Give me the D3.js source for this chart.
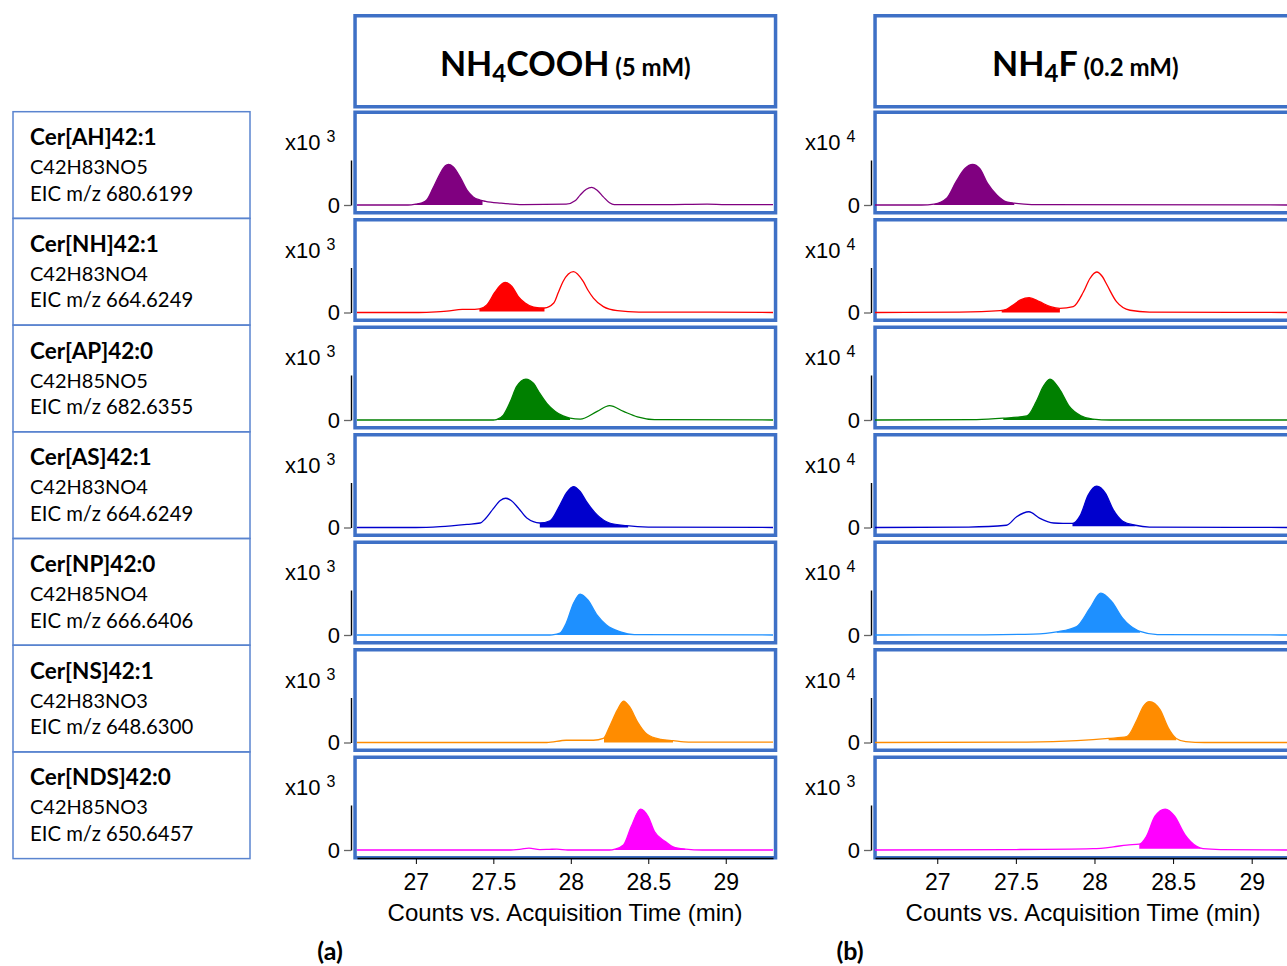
<!DOCTYPE html>
<html>
<head>
<meta charset="utf-8">
<script src="https://cdn.jsdelivr.net/npm/d3@7"></script>
<style>
	body { margin: 0; background: #fff; }
	svg { display: block; }
	.axis text { font-family: "Liberation Sans", Arial, sans-serif; fill: #000; }
	.lbl { font-family: Lato, "Open Sans", sans-serif; fill: #000; }
</style>
</head>
<body>
<div id="chartDiv"></div>
<script>
;(function() {

	// ---- data ----
	var compounds = ["Cer[AH]42:1", "Cer[NH]42:1", "Cer[AP]42:0", "Cer[AS]42:1", "Cer[NP]42:0", "Cer[NS]42:1", "Cer[NDS]42:0"];
	var formulas = ["C42H83NO5", "C42H83NO4", "C42H85NO5", "C42H83NO4", "C42H85NO4", "C42H83NO3", "C42H85NO3"];
	var eicMz = ["680.6199", "664.6249", "682.6355", "664.6249", "666.6406", "648.6300", "650.6457"];

	var timeTicks = [27, 27.5, 28, 28.5, 29];
	var xDomainA = [26.62, 29.305];
	var xDomainB = [26.604, 29.25];
	var exponentsA = [3, 3, 3, 3, 3, 3, 3];
	var exponentsB = [4, 4, 4, 4, 4, 4, 3];

	// [time (min), relative counts]
	var tracesA = [
		[[26.62,0],[26.95,0],[27.0,0.02],[27.04,0.05],[27.07,0.11],[27.11,0.37],[27.157,0.70],[27.19,0.87],[27.21,0.90],[27.24,0.85],[27.29,0.59],[27.33,0.33],[27.37,0.18],[27.415,0.11],[27.45,0.08],[27.55,0.04],[27.69,0.01],[27.97,0.02],[28.03,0.10],[28.06,0.22],[28.1,0.35],[28.135,0.39],[28.17,0.33],[28.21,0.18],[28.25,0.05],[28.28,0.01],[28.6,0.01],[28.88,0.02],[29.0,0.01],[29.305,0.01]],
		[[26.62,0],[27.0,0],[27.1,0.01],[27.2,0.03],[27.3,0.07],[27.38,0.07],[27.41,0.08],[27.458,0.17],[27.51,0.45],[27.544,0.60],[27.576,0.67],[27.62,0.58],[27.66,0.36],[27.705,0.21],[27.76,0.12],[27.83,0.10],[27.89,0.21],[27.92,0.45],[27.95,0.69],[28.017,0.91],[28.08,0.69],[28.11,0.50],[28.146,0.32],[28.21,0.13],[28.30,0.04],[28.44,0.01],[28.8,0.01],[29.305,0]],
		[[26.62,0],[27.5,0],[27.52,0.01],[27.565,0.11],[27.61,0.41],[27.65,0.74],[27.71,0.91],[27.76,0.81],[27.80,0.59],[27.845,0.37],[27.90,0.19],[27.95,0.09],[27.995,0.04],[28.06,0.02],[28.17,0.19],[28.25,0.32],[28.34,0.19],[28.43,0.07],[28.54,0.01],[29.305,0]],
		[[26.62,0],[27.0,0],[27.157,0.02],[27.33,0.07],[27.415,0.10],[27.45,0.20],[27.5,0.42],[27.545,0.60],[27.58,0.65],[27.615,0.60],[27.66,0.44],[27.716,0.21],[27.80,0.10],[27.866,0.15],[27.93,0.50],[27.974,0.78],[28.017,0.91],[28.06,0.80],[28.10,0.58],[28.17,0.28],[28.25,0.10],[28.36,0.04],[28.5,0.01],[29.305,0]],
		[[26.62,0],[27.85,0],[27.88,0.005],[27.93,0.04],[27.97,0.26],[28.017,0.70],[28.06,0.91],[28.11,0.78],[28.17,0.44],[28.23,0.22],[28.32,0.07],[28.41,0.01],[29.305,0]],
		[[26.62,0],[27.845,0],[27.97,0.05],[28.146,0.05],[28.21,0.09],[28.25,0.35],[28.30,0.72],[28.34,0.92],[28.38,0.79],[28.43,0.46],[28.49,0.19],[28.58,0.07],[28.66,0.04],[28.76,0.01],[29.305,0.01]],
		[[26.62,0],[27.6,0],[27.68,0.02],[27.73,0.04],[27.8,0.01],[27.86,0.015],[27.91,0.02],[27.98,0],[28.25,0],[28.285,0.02],[28.34,0.11],[28.39,0.52],[28.45,0.91],[28.50,0.74],[28.54,0.41],[28.61,0.19],[28.66,0.07],[28.74,0.02],[28.85,0],[29.305,0]]
	];
	var tracesB = [
		[[26.604,0],[26.9,0],[26.98,0.02],[27.06,0.15],[27.12,0.52],[27.176,0.81],[27.225,0.90],[27.27,0.81],[27.32,0.48],[27.38,0.22],[27.44,0.07],[27.49,0.04],[27.6,0.01],[29.25,0]],
		[[26.604,0],[27.14,0.01],[27.40,0.04],[27.44,0.07],[27.48,0.16],[27.53,0.28],[27.585,0.33],[27.65,0.24],[27.72,0.13],[27.78,0.09],[27.865,0.13],[27.93,0.46],[27.97,0.75],[28.014,0.90],[28.05,0.80],[28.08,0.61],[28.14,0.24],[28.226,0.05],[28.35,0.01],[29.25,0]],
		[[26.604,0],[27.25,0.01],[27.42,0.04],[27.57,0.09],[27.63,0.41],[27.674,0.74],[27.717,0.91],[27.78,0.67],[27.84,0.30],[27.91,0.10],[27.99,0.02],[28.1,0],[29.25,0]],
		[[26.604,0],[27.2,0.01],[27.44,0.05],[27.505,0.24],[27.583,0.35],[27.65,0.21],[27.74,0.10],[27.80,0.09],[27.86,0.09],[27.91,0.27],[27.96,0.72],[28.014,0.92],[28.07,0.76],[28.12,0.39],[28.18,0.14],[28.26,0.05],[28.35,0.01],[29.25,0]],
		[[26.604,0],[27.3,0.005],[27.61,0.02],[27.76,0.07],[27.887,0.19],[27.97,0.59],[28.04,0.93],[28.11,0.74],[28.18,0.37],[28.27,0.11],[28.29,0.08],[28.4,0.01],[29.25,0]],
		[[26.604,0],[27.57,0.01],[27.887,0.04],[28.09,0.09],[28.205,0.13],[28.27,0.50],[28.31,0.80],[28.35,0.91],[28.417,0.73],[28.47,0.32],[28.52,0.09],[28.58,0.02],[28.7,0],[29.25,0]],
		[[26.604,0],[27.5,0.01],[27.99,0.03],[28.12,0.07],[28.205,0.11],[28.285,0.13],[28.33,0.30],[28.385,0.75],[28.45,0.91],[28.51,0.75],[28.575,0.34],[28.65,0.08],[28.69,0.03],[28.8,0.01],[29.25,0]]
	];

	// integrated peak windows [start, end] (min) and the level the shading sits on
	var peakWindowsA = [[26.985,27.43],[27.41,27.83],[27.515,27.995],[27.80,28.37],[27.88,28.41],[28.215,28.66],[28.285,28.74]];
	var peakWindowsB = [[26.98,27.49],[27.41,27.78],[27.42,28.0],[27.86,28.26],[27.76,28.29],[28.09,28.52],[28.285,28.69]];
	var peakBaseA = [0, 0.02, 0, 0, 0, 0, 0];
	var peakBaseB = [0, 0, 0, 0.03, 0.05, 0.05, 0.03];

	// ---- styles / layout ----
	var traceColors = ["#800080", "#FF0000", "#008000", "#0000CD", "#1E90FF", "#FF8C00", "#FF00FF"];
	var boxBlue = "#3E70C6";
	var width = 1287, height = 966;
	var rowTop0 = 110.5, rowPitch = 107.5, rowBoxH = 104;
	var baseOffset = 94.5, barH = 45;
	var boxStroke = 3.5;

	var columns = [
		{ boxX: 353.3, boxW: 424, axisX: 351, range: [357, 773], domain: xDomainA, traces: tracesA,
		  windows: peakWindowsA, bases: peakBaseA, exps: exponentsA,
		  title: "NH", sub: "4", rest: "COOH", conc: "(5 mM)", tag: "(a)", tagX: 330 },
		{ boxX: 873.3, boxW: 424, axisX: 871, range: [875, 1291], domain: xDomainB, traces: tracesB,
		  windows: peakWindowsB, bases: peakBaseB, exps: exponentsB,
		  title: "NH", sub: "4", rest: "F", conc: "(0.2 mM)", tag: "(b)", tagX: 850 }
	];

	var chart = d3.select("#chartDiv").append("svg")
		.attr("width", width)
		.attr("height", height);

	var defs = chart.append("defs");

	// left label boxes
	var labelTop0 = 111.7, labelPitch = 106.7;
	compounds.forEach(function(name, i) {
		var top = labelTop0 + i * labelPitch;
		var g = chart.append("g").attr("transform", "translate(0," + top + ")");
		g.append("rect")
			.attr("x", 13).attr("y", 0)
			.attr("width", 237).attr("height", labelPitch)
			.attr("fill", "none")
			.attr("stroke", "#5A84CF")
			.attr("stroke-width", 1.5);
		g.append("text").attr("class", "lbl")
			.attr("x", 30).attr("y", 33.5)
			.style("font-size", "22.5px").style("font-weight", "bold")
			.text(name);
		g.append("text").attr("class", "lbl")
			.attr("x", 30).attr("y", 62.5)
			.style("font-size", "20px")
			.text(formulas[i]);
		g.append("text").attr("class", "lbl")
			.attr("x", 30).attr("y", 89)
			.style("font-size", "20.3px")
			.text("EIC m/z " + eicMz[i]);
	});

	columns.forEach(function(col, c) {
		var xScale = d3.scaleLinear().domain(col.domain).range(col.range);

		// header box
		chart.append("rect")
			.attr("x", col.boxX + boxStroke / 2).attr("y", 14 + boxStroke / 2)
			.attr("width", col.boxW - boxStroke).attr("height", 94.5 - boxStroke)
			.attr("fill", "none").attr("stroke", boxBlue).attr("stroke-width", boxStroke);

		var head = chart.append("text").attr("class", "lbl")
			.attr("x", col.boxX + col.boxW / 2).attr("y", 76)
			.attr("text-anchor", "middle")
			.style("font-weight", "bold");
		head.append("tspan").style("font-size", "34px").text(col.title);
		head.append("tspan").style("font-size", "24px").attr("dy", 6).text(col.sub);
		head.append("tspan").style("font-size", "34px").attr("dy", -6).text(col.rest);
		head.append("tspan").style("font-size", "24px").text(" " + col.conc);

		col.traces.forEach(function(trace, r) {
			var top = rowTop0 + r * rowPitch;
			var base = top + baseOffset;
			var yScale = d3.scaleLinear().domain([0, 1]).range([base, base - barH]);

			// panel frame
			chart.append("rect")
				.attr("x", col.boxX + boxStroke / 2).attr("y", top + boxStroke / 2)
				.attr("width", col.boxW - boxStroke).attr("height", rowBoxH - boxStroke)
				.attr("fill", "none").attr("stroke", boxBlue).attr("stroke-width", boxStroke);

			// integrated peak
			var w = col.windows[r];
			var clipId = "clip-" + c + "-" + r;
			defs.append("clipPath").attr("id", clipId)
				.append("rect")
				.attr("x", xScale(w[0])).attr("y", top)
				.attr("width", xScale(w[1]) - xScale(w[0])).attr("height", rowBoxH);

			var area = d3.area()
				.curve(d3.curveMonotoneX)
				.x(function(d) { return xScale(d[0]); })
				.y0(yScale(col.bases[r]))
				.y1(function(d) { return yScale(d[1]); });

			chart.append("path")
				.datum(trace)
				.attr("clip-path", "url(#" + clipId + ")")
				.attr("fill", traceColors[r])
				.attr("d", area);

			var line = d3.line()
				.curve(d3.curveMonotoneX)
				.x(function(d) { return xScale(d[0]); })
				.y(function(d) { return yScale(d[1]); });

			chart.append("path")
				.datum(trace)
				.attr("fill", "none")
				.attr("stroke", traceColors[r])
				.attr("stroke-width", 1.3)
				.attr("d", line);

			// y axis
			var yAxis = d3.axisLeft(yScale)
				.tickValues([0])
				.tickFormat(d3.format("d"))
				.tickSize(7)
				.tickSizeOuter(0)
				.tickPadding(4);
			var yg = chart.append("g")
				.attr("class", "axis")
				.attr("transform", "translate(" + col.axisX + ",0)")
				.call(yAxis);
			yg.selectAll("text").style("font-size", "22px");
			yg.selectAll(".tick line").attr("stroke", "#666").attr("stroke-width", 1.3);
			yg.select(".domain").attr("stroke", "#000").attr("stroke-width", 1.4);

			var ex = chart.append("text")
				.attr("x", col.axisX - 66).attr("y", base - 55)
				.style("font-family", "'Liberation Sans', Arial, sans-serif")
				.style("font-size", "22px");
			ex.append("tspan").text("x10");
			ex.append("tspan").attr("dx", 6).attr("dy", -8).style("font-size", "16px").text(col.exps[r]);
		});

		// x axis
		var lastTop = rowTop0 + (col.traces.length - 1) * rowPitch;
		var axisY = Math.round(lastTop + rowBoxH - 2);
		var xAxis = d3.axisBottom(xScale)
			.tickValues(timeTicks)
			.tickFormat(d3.format(""))
			.tickSize(6)
			.tickSizeOuter(0)
			.tickPadding(10);
		var xg = chart.append("g")
			.attr("class", "axis")
			.attr("transform", "translate(0," + axisY + ")")
			.call(xAxis);
		xg.selectAll("text").style("font-size", "23px");
		xg.select(".domain").attr("stroke-width", 1.3);

		chart.append("text")
			.attr("x", (col.range[0] + col.range[1]) / 2)
			.attr("y", 921)
			.attr("text-anchor", "middle")
			.style("font-family", "'Liberation Sans', Arial, sans-serif")
			.style("font-size", "24px")
			.text("Counts vs. Acquisition Time (min)");

		chart.append("text").attr("class", "lbl")
			.attr("x", col.tagX).attr("y", 960)
			.attr("text-anchor", "middle")
			.style("font-size", "25px").style("font-weight", "bold")
			.text(col.tag);
	});

})();
</script>
</body>
</html>
